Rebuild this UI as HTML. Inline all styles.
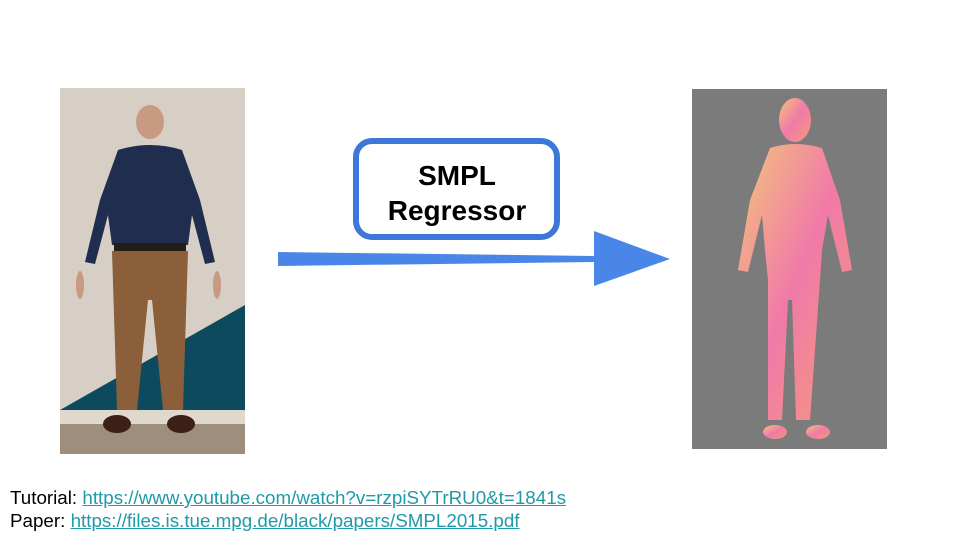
<!DOCTYPE html>
<html><head><meta charset="utf-8"><style>
html,body{margin:0;padding:0;background:#fff;}
body{width:960px;height:540px;position:relative;overflow:hidden;font-family:"Liberation Sans",Arial,sans-serif;}
.t{position:absolute;left:10px;font-size:18.8px;color:#000;line-height:22px;}
.t a{color:#1f9aa8;text-decoration:underline;}
</style></head><body>
<svg width="960" height="540" style="position:absolute;left:0;top:0">
<rect x="60" y="88" width="185" height="366" fill="#d7cfc5"/>
<polygon points="60,410 245,305 245,410" fill="#0e4a5e"/>
<rect x="60" y="410" width="185" height="14" fill="#e0d8cd"/>
<rect x="60" y="424" width="185" height="30" fill="#9e8e7c"/>
<ellipse cx="150" cy="122" rx="14" ry="17" fill="#c99a82"/>
<path d="M118,150 Q150,140 182,150 L200,200 L215,262 L205,264 L192,215 L188,245 L112,245 L108,215 L95,264 L85,262 L100,200 Z" fill="#1f2d4f"/>
<rect x="114" y="243" width="72" height="8" fill="#231d1a"/>
<path d="M112,251 L188,251 L183,410 L163,410 L152,300 L148,300 L137,410 L117,410 Z" fill="#8a5f3a"/>
<ellipse cx="117" cy="424" rx="14" ry="9" fill="#3c1f16"/>
<ellipse cx="181" cy="424" rx="14" ry="9" fill="#3c1f16"/>
<ellipse cx="80" cy="285" rx="4" ry="14" fill="#c99a82"/>
<ellipse cx="217" cy="285" rx="4" ry="14" fill="#c99a82"/>
<rect x="692" y="89" width="195" height="360" fill="#7b7b7b"/>
<defs><linearGradient id="g" x1="0" y1="0" x2="1" y2="1"><stop offset="0" stop-color="#f4c47a"/><stop offset="0.5" stop-color="#f07aa8"/><stop offset="1" stop-color="#f59a7a"/></linearGradient></defs>
<g fill="url(#g)">
<ellipse cx="795" cy="120" rx="16" ry="22"/>
<path d="M770,148 Q795,140 822,148 L840,200 L852,270 L842,272 L828,215 L822,250 L820,280 L810,420 L796,420 L792,300 L788,300 L782,420 L768,420 L768,280 L765,250 L762,215 L748,272 L738,270 L750,200 Z"/>
<ellipse cx="775" cy="432" rx="12" ry="7"/>
<ellipse cx="818" cy="432" rx="12" ry="7"/>
</g>
<polygon points="278,252 594,256 594,231 670,259 594,286 594,262 278,266" fill="#4a86e8"/>
<rect x="356" y="141" width="201" height="96" rx="16" fill="#fff" stroke="#3c78d8" stroke-width="6"/>
<text x="457" y="185" font-family="Liberation Sans,Arial,sans-serif" font-weight="bold" font-size="28" text-anchor="middle">SMPL</text>
<text x="457" y="220" font-family="Liberation Sans,Arial,sans-serif" font-weight="bold" font-size="28" text-anchor="middle">Regressor</text>
</svg>
<div class="t" style="top:487px">Tutorial: <a>https://www.youtube.com/watch?v=rzpiSYTrRU0&amp;t=1841s</a></div>
<div class="t" style="top:510px">Paper: <a>https://files.is.tue.mpg.de/black/papers/SMPL2015.pdf</a></div>
</body></html>
